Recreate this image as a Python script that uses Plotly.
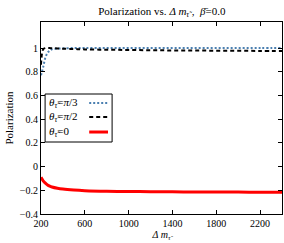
import plotly.graph_objects as go

# Data
dm = [200, 220, 240, 260, 280, 300, 350, 400, 500, 600, 800, 1000, 1200,
      1400, 1600, 1800, 2000, 2200, 2400]
pol_pi3 = [0.77, 0.84, 0.92, 0.96, 0.98, 0.99, 0.995, 0.998, 1.0, 1.0, 1.0,
           1.0, 1.0, 1.0, 1.0, 1.0, 1.0, 1.0, 1.0]
pol_pi2 = [0.86, 0.99, 1.0, 1.0, 1.0, 0.999, 0.997, 0.995, 0.992, 0.989,
           0.986, 0.984, 0.982, 0.980, 0.979, 0.978, 0.977, 0.976, 0.975]
pol_0 = [-0.09, -0.12, -0.14, -0.155, -0.165, -0.172, -0.183, -0.19, -0.198,
         -0.203, -0.208, -0.21, -0.212, -0.213, -0.214, -0.215, -0.215,
         -0.216, -0.216]

x_ticks = [200, 600, 1000, 1400, 1800, 2200]
y_ticks = [-0.4, -0.2, 0, 0.2, 0.4, 0.6, 0.8, 1]
y_ticktext = ["\u22120.4", "\u22120.2", "0", "0.2", "0.4", "0.6", "0.8", "1"]

theta = "<i>\u03b8</i><sub><i>\u03c4\u0303</i></sub>"
labels = [theta + "=<i>\u03c0</i>/3", theta + "=<i>\u03c0</i>/2", theta + "=0"]
colors = ["#4a7fb0", "black", "red"]
dashes = ["2px,2px", "4px,3px", "solid"]
widths = [2, 2, 3]
series = [pol_pi3, pol_pi2, pol_0]

FONT = "Liberation Serif, DejaVu Serif, serif"

fig = go.Figure()
for y, c, d, w, n in zip(series, colors, dashes, widths, labels):
    fig.add_trace(go.Scatter(x=dm, y=y, mode="lines", name=n,
                             line=dict(color=c, dash=d, width=w, shape="spline"),
                             showlegend=False))

# manual legend (text left, sample right), in axis-domain coordinates
shapes = [dict(type="rect", xref="x domain", yref="y domain",
               x0=0.017, x1=0.295, y0=0.375, y1=0.625,
               line=dict(color="black", width=1), fillcolor="white")]
annotations = []
rows = [0.578, 0.505, 0.427]
for ry, c, d, w, n in zip(rows, colors, dashes, widths, labels):
    shapes.append(dict(type="line", xref="x domain", yref="y domain",
                       x0=0.20, x1=0.278, y0=ry, y1=ry,
                       line=dict(color=c, dash=d, width=w)))
    annotations.append(dict(text=n, xref="x domain", yref="y domain",
                            x=0.025, y=ry, xanchor="left", yanchor="middle",
                            showarrow=False,
                            font=dict(family=FONT, size=11, color="black")))

fig.update_layout(
    width=284, height=243,
    margin=dict(l=41, r=2, t=22, b=29),
    paper_bgcolor="white", plot_bgcolor="white",
    font=dict(family=FONT, size=10, color="black"),
    title=dict(text="Polarization vs. <i>\u0394 m</i><sub><i>\u03c4\u0303</i></sub> ,  "
                    "<i>\u03b2\u0304</i>=0.0",
               x=0.57, xanchor="center", y=0.955, yanchor="middle",
               font=dict(family=FONT, size=11)),
    shapes=shapes,
    annotations=annotations,
)
fig.update_xaxes(range=[200, 2400], tickvals=x_ticks, ticks="inside",
                 ticklen=4, tickcolor="black", showline=True, linecolor="black",
                 linewidth=1, mirror="ticks", showgrid=False, zeroline=False,
                 tickfont=dict(family=FONT, size=10),
                 title=dict(text="<i>\u0394 m</i><sub><i>\u03c4\u0303</i></sub>",
                            standoff=2, font=dict(family=FONT, size=10)))
fig.update_yaxes(range=[-0.4, 1.22], tickvals=y_ticks, ticktext=y_ticktext,
                 ticks="inside", ticklen=4, tickcolor="black", showline=True,
                 linecolor="black", linewidth=1, mirror="ticks",
                 showgrid=False, zeroline=False,
                 tickfont=dict(family=FONT, size=10),
                 title=dict(text="Polarization", standoff=4,
                            font=dict(family=FONT, size=11)))

fig.write_html("out.html",
               config={"displayModeBar": False},
               post_script="document.body.style.margin='0';"
                           "document.body.style.padding='0';")
